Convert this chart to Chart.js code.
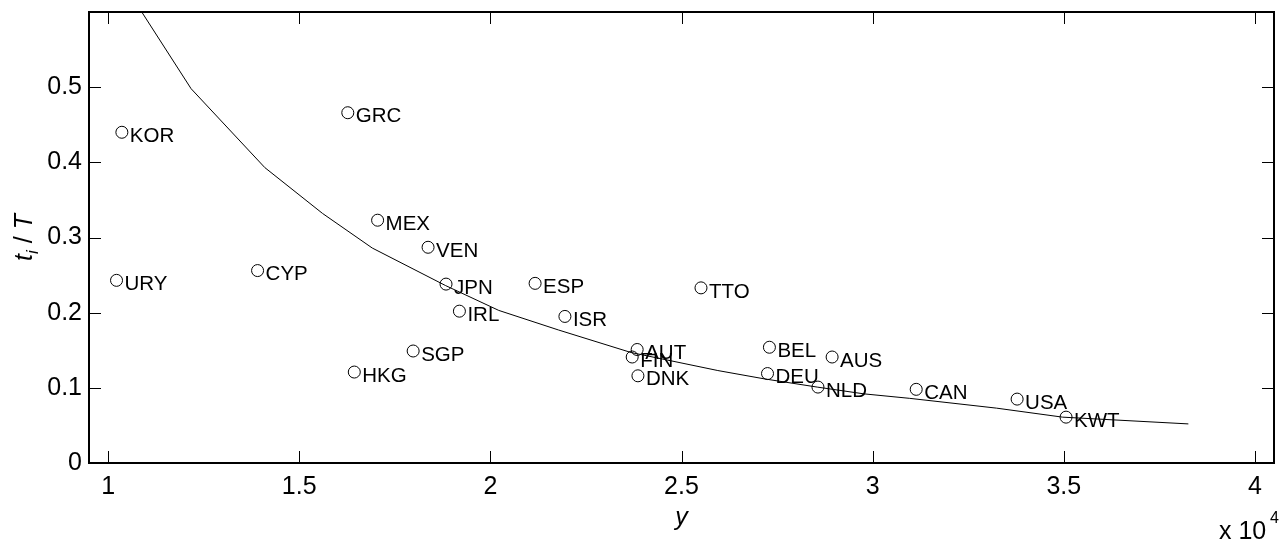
<!DOCTYPE html>
<html>
<head>
<meta charset="utf-8">
<script src="https://cdn.jsdelivr.net/npm/chart.js@4/dist/chart.umd.min.js"></script>
<style>
  html, body { margin: 0; padding: 0; background: #fff; }
  #wrap { width: 1281px; height: 543px; position: relative; }
</style>
</head>
<body>
<div id="wrap"><canvas id="c" width="1281" height="543"></canvas></div>
<script>
// income per head (x 10^4) and share t_i / T for each country
const countries = ['KOR', 'URY', 'CYP', 'HKG', 'GRC', 'MEX', 'SGP', 'VEN', 'JPN', 'IRL', 'ESP', 'ISR',
                   'FIN', 'AUT', 'DNK', 'TTO', 'DEU', 'BEL', 'NLD', 'AUS', 'CAN', 'USA', 'KWT'];
const income = [1.036, 1.022, 1.391, 1.644, 1.627, 1.705, 1.798, 1.837, 1.884, 1.919, 2.117, 2.195,
                2.371, 2.384, 2.386, 2.551, 2.725, 2.730, 2.857, 2.894, 3.114, 3.378, 3.506];
const share = [0.440, 0.243, 0.256, 0.121, 0.466, 0.323, 0.149, 0.287, 0.238, 0.202, 0.239, 0.195,
               0.141, 0.151, 0.116, 0.233, 0.119, 0.154, 0.101, 0.141, 0.098, 0.085, 0.061];

// fitted curve
const fitX = [1.088, 1.217, 1.410, 1.561, 1.691, 1.883, 2.022, 2.178, 2.368, 2.595, 2.716, 2.855,
              2.977, 3.097, 3.324, 3.497, 3.826];
const fitY = [0.600, 0.498, 0.393, 0.332, 0.286, 0.236, 0.203, 0.177, 0.147, 0.123, 0.112, 0.101,
              0.092, 0.086, 0.073, 0.061, 0.052];

const xTicks = [1, 1.5, 2, 2.5, 3, 3.5, 4];
const yTicks = [0, 0.1, 0.2, 0.3, 0.4, 0.5];

const FONT = "'Liberation Sans', Arial, Helvetica, sans-serif";
const TICK = 12;

// box, inward ticks on all four sides, country labels and axis titles
const matlabAxes = {
  id: 'matlabAxes',
  afterDatasetsDraw(chart) {
    const ctx = chart.ctx;
    const a = chart.chartArea;
    const xs = chart.scales.x, ys = chart.scales.y;
    ctx.save();

    // country labels next to the markers
    const meta = chart.getDatasetMeta(1);
    ctx.fillStyle = '#000';
    ctx.font = '20.5px ' + FONT;
    ctx.textAlign = 'left';
    ctx.textBaseline = 'middle';
    meta.data.forEach((pt, i) => {
      ctx.fillText(countries[i], pt.x + 8, pt.y + 4);
    });

    // tick marks
    ctx.strokeStyle = '#000';
    ctx.lineWidth = 1;
    ctx.beginPath();
    xTicks.forEach(v => {
      const px = Math.round(xs.getPixelForValue(v)) + 0.5;
      ctx.moveTo(px, a.bottom); ctx.lineTo(px, a.bottom - TICK);
      ctx.moveTo(px, a.top); ctx.lineTo(px, a.top + TICK);
    });
    yTicks.forEach(v => {
      const py = Math.round(ys.getPixelForValue(v)) + 0.5;
      ctx.moveTo(a.left, py); ctx.lineTo(a.left + TICK, py);
      ctx.moveTo(a.right, py); ctx.lineTo(a.right - TICK, py);
    });
    ctx.stroke();

    // axes box
    ctx.lineWidth = 2;
    ctx.strokeRect(a.left, a.top, a.right - a.left, a.bottom - a.top);

    // x title
    ctx.font = 'italic 25px ' + FONT;
    ctx.textAlign = 'center';
    ctx.textBaseline = 'alphabetic';
    ctx.fillText('y', (a.left + a.right) / 2, 525);

    // exponent note
    ctx.font = '25px ' + FONT;
    ctx.textAlign = 'left';
    ctx.fillText('x 10', 1219, 539);
    ctx.font = '16px ' + FONT;
    ctx.fillText('4', 1270, 523);

    // y title: t_i / T
    ctx.translate(32, (a.top + a.bottom) / 2);
    ctx.rotate(-Math.PI / 2);
    ctx.font = 'italic 25px ' + FONT;
    const w1 = ctx.measureText('t').width;
    ctx.font = 'italic 17px ' + FONT;
    const w2 = ctx.measureText('i').width;
    ctx.font = '25px ' + FONT;
    const w3 = ctx.measureText(' / ').width;
    ctx.font = 'italic 25px ' + FONT;
    const w4 = ctx.measureText('T').width;
    let x0 = -(w1 + w2 + w3 + w4) / 2;
    ctx.fillText('t', x0, 0); x0 += w1;
    ctx.font = 'italic 17px ' + FONT;
    ctx.fillText('i', x0, 6); x0 += w2;
    ctx.font = '25px ' + FONT;
    ctx.fillText(' / ', x0, 0); x0 += w3;
    ctx.font = 'italic 25px ' + FONT;
    ctx.fillText('T', x0, 0);

    ctx.restore();
  }
};

new Chart(document.getElementById('c'), {
  type: 'scatter',
  data: {
    datasets: [
      {
        data: fitX.map((x, i) => ({ x: x, y: fitY[i] })),
        showLine: true,
        borderColor: '#000',
        borderWidth: 1,
        pointRadius: 0,
        fill: false
      },
      {
        data: income.map((x, i) => ({ x: x, y: share[i] })),
        pointStyle: 'circle',
        pointRadius: 6,
        pointBorderWidth: 1,
        pointBorderColor: '#000',
        pointBackgroundColor: 'rgba(0,0,0,0)',
        showLine: false
      }
    ]
  },
  options: {
    responsive: false,
    animation: false,
    devicePixelRatio: 1,
    layout: { padding: { top: 12, right: 2, left: 0, bottom: 0 } },
    plugins: { legend: { display: false }, tooltip: { enabled: false } },
    scales: {
      x: {
        type: 'linear',
        min: 0.95,
        max: 4.05,
        grid: { display: false, drawTicks: false },
        border: { display: false },
        afterBuildTicks: s => { s.ticks = xTicks.map(v => ({ value: v })); },
        afterFit: s => { s.height = 80; s.paddingLeft = 0; s.paddingRight = 0; },
        ticks: {
          padding: 9,
          maxRotation: 0,
          autoSkip: false,
          color: '#000',
          font: { family: FONT, size: 25 },
          callback: v => String(v)
        }
      },
      y: {
        type: 'linear',
        min: 0,
        max: 0.6,
        grid: { display: false, drawTicks: false },
        border: { display: false },
        afterBuildTicks: s => { s.ticks = yTicks.map(v => ({ value: v })); },
        afterFit: s => { s.width = 89; s.paddingTop = 0; s.paddingBottom = 0; },
        ticks: {
          padding: 7,
          autoSkip: false,
          color: '#000',
          font: { family: FONT, size: 25 },
          callback: v => String(v)
        }
      }
    }
  },
  plugins: [matlabAxes]
});
</script>
</body>
</html>
